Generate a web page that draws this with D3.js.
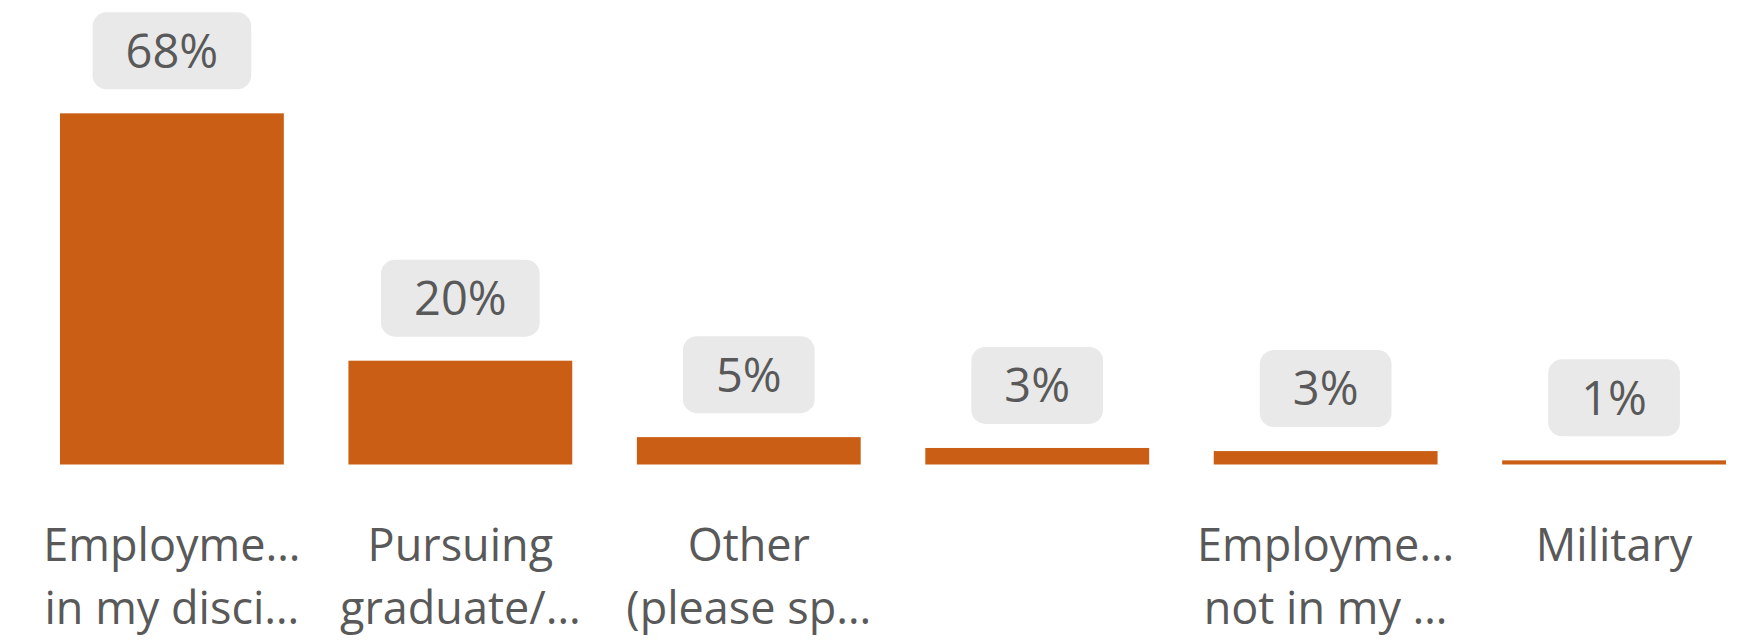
<!DOCTYPE html>
<html>
<head>
<meta charset="utf-8">
<script src="https://cdn.jsdelivr.net/npm/d3@7"></script>
<style>
  body { margin: 0; background: #fff; }
  svg { display: block; }
  text { font-family: "Open Sans", "Noto Sans", sans-serif; fill: #595959; }
</style>
</head>
<body>
<div id="chart"></div>
<script>
// values (percent of respondents)
const categories = ["emp_in", "grad", "other", "blank", "emp_out", "military"];
const values = [68, 20.1, 5.3, 3.2, 2.6, 0.8];
const labelLines = [
    ["Employme\u2026", "in my disci\u2026"],
    ["Pursuing", "graduate/\u2026"],
    ["Other", "(please sp\u2026"],
    [],
    ["Employme\u2026", "not in my \u2026"],
    ["Military"]
];

const width = 1741,
    height = 644;

const svg = d3.select("#chart")
    .append("svg")
    .attr("width", width)
    .attr("height", height);

const x = d3.scaleBand()
    .domain(categories)
    .range([60, 1726])
    .paddingInner(0.224)
    .paddingOuter(0);

const y = d3.scaleLinear()
    .domain([0, 70])
    .range([464.5, 103]);

const bars = svg.append("g");

bars.selectAll("rect")
    .data(values)
    .enter()
    .append("rect")
    .attr("x", (d, i) => x(categories[i]))
    .attr("y", d => y(d))
    .attr("width", x.bandwidth())
    .attr("height", d => y(0) - y(d))
    .attr("fill", "#ca5e15");

// data labels in rounded grey boxes
const labels = svg.append("g")
    .selectAll("g")
    .data(values)
    .enter()
    .append("g")
    .attr("transform", (d, i) => `translate(${x(categories[i]) + x.bandwidth() / 2},${y(d) - 24 - 38.5})`);

labels.append("rect")
    .attr("class", "box")
    .attr("fill", "#e9e9e9")
    .attr("rx", 14)
    .attr("ry", 14);

labels.append("text")
    .attr("text-anchor", "middle")
    .attr("dy", "0.36em")
    .style("font-size", "47px")
    .text(d => Math.round(d) + "%");

labels.each(function () {
    const g = d3.select(this);
    const w = g.select("text").node().getComputedTextLength() + 66;
    g.select("rect")
        .attr("x", -w / 2)
        .attr("y", -38.5)
        .attr("width", w)
        .attr("height", 77);
});

// category labels, two lines each
const cats = svg.append("g")
    .selectAll("text")
    .data(labelLines)
    .enter()
    .append("text")
    .attr("text-anchor", "middle")
    .attr("x", (d, i) => x(categories[i]) + x.bandwidth() / 2)
    .attr("y", 561)
    .style("font-size", "45px");

cats.selectAll("tspan")
    .data(d => d)
    .enter()
    .append("tspan")
    .attr("x", function () { return d3.select(this.parentNode).attr("x"); })
    .attr("dy", (d, i) => i === 0 ? 0 : 62.5)
    .text(d => d);
</script>
</body>
</html>
